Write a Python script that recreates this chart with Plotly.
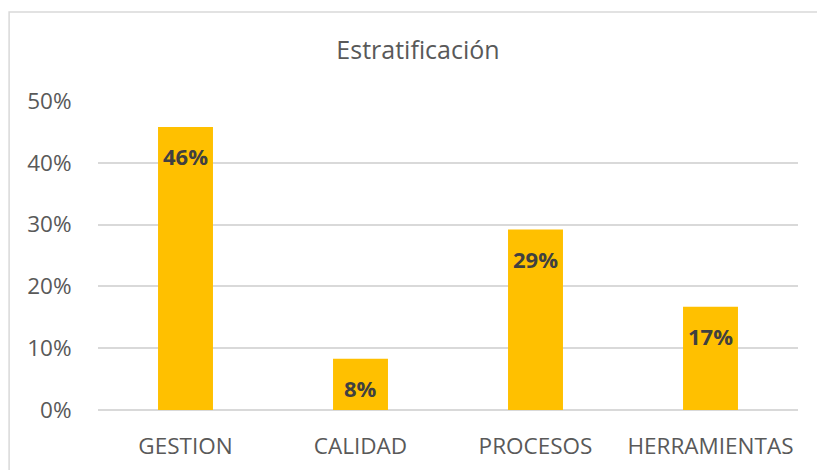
import plotly.graph_objects as go

categories = ["GESTION", "CALIDAD", "PROCESOS", "HERRAMIENTAS"]
values = [0.458, 0.083, 0.292, 0.167]
labels = ["46%", "8%", "29%", "17%"]
title_text = "Estratificación"

FONT = "Open Sans"

fig = go.Figure()
fig.add_trace(go.Bar(
    x=categories, y=values,
    marker=dict(color="#FFC000", line=dict(width=0)),
    width=0.314,
    hoverinfo="skip",
))

for c, v, t in zip(categories, values, labels):
    fig.add_annotation(
        x=c, y=v, text="<b>%s</b>" % t, showarrow=False,
        yanchor="middle", yshift=-29,
        font=dict(family=FONT, size=22, color="#404040"),
    )

# outer chart frame
fig.add_shape(type="rect", xref="paper", yref="paper",
              x0=-0.127, x1=1.2, y0=-0.5, y1=1.288,
              line=dict(color="#D9D9D9", width=1.5), fillcolor="rgba(0,0,0,0)",
              layer="below")

fig.update_layout(
    width=817, height=470,
    autosize=False,
    margin=dict(l=98, r=19, t=101, b=60, pad=0, autoexpand=False),
    paper_bgcolor="white", plot_bgcolor="white",
    showlegend=False,
    title=dict(text=title_text, x=418/817, xref="container", y=1 - 50/470, yanchor="middle",
               xanchor="center", automargin=False,
               font=dict(family=FONT, size=25, color="#595959")),
    xaxis=dict(
        showgrid=False, showline=False, zeroline=False, automargin=False,
        tickfont=dict(family=FONT, size=22.5, color="#595959"),
        ticks="outside", ticklen=16, tickcolor="rgba(0,0,0,0)",
        range=[-0.5, 3.5],
    ),
    yaxis=dict(
        range=[0, 0.5], dtick=0.1, tickformat=".0%", automargin=False,
        showgrid=True, gridcolor="#D9D9D9", gridwidth=1.5,
        zeroline=True, zerolinecolor="#D9D9D9", zerolinewidth=1.5,
        showline=False,
        tickfont=dict(family=FONT, size=22.5, color="#595959"),
        ticks="outside", ticklen=21, tickcolor="rgba(0,0,0,0)",
    ),
)

fig.write_html(
    "out.html",
    config={"displayModeBar": False},
    post_script="document.body.style.margin='0';document.body.style.overflow='hidden';",
)
